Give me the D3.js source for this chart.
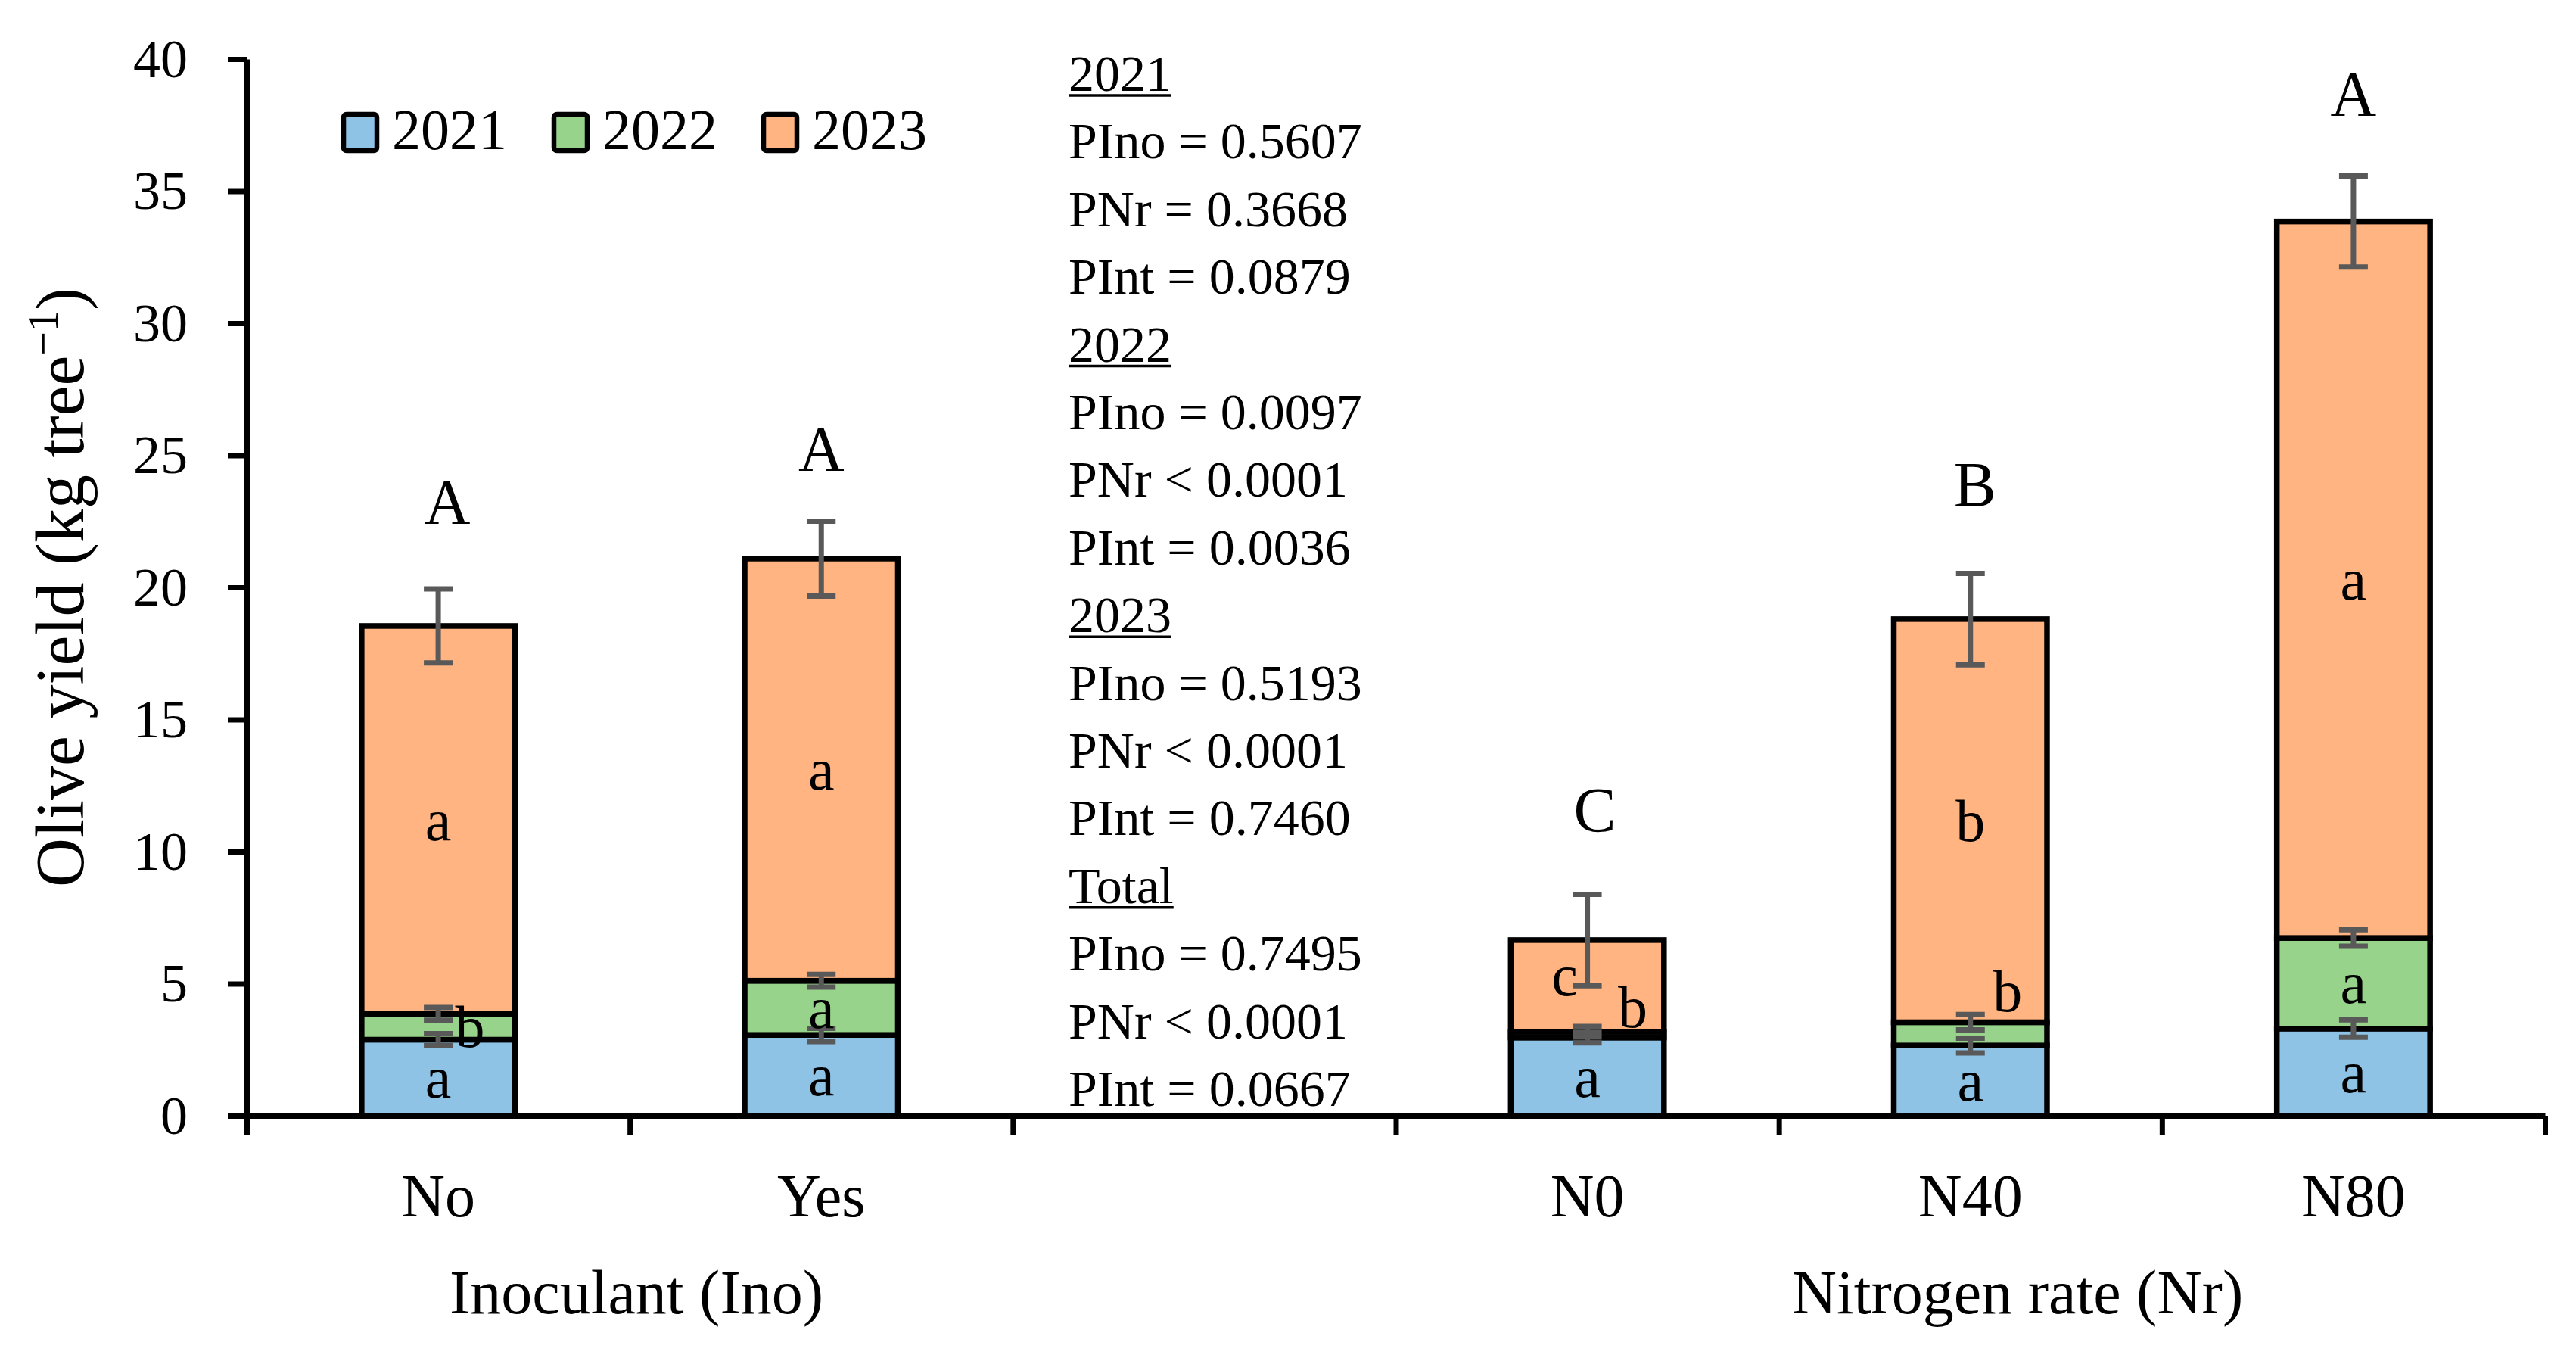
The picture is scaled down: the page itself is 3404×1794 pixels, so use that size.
<!DOCTYPE html>
<html>
<head>
<meta charset="utf-8">
<script src="https://cdn.jsdelivr.net/npm/d3@7"></script>
<style>
  html, body { margin: 0; padding: 0; background: #fff; }
  svg { display: block; }
  text { font-family: "Liberation Serif", "Times New Roman", serif; fill: #000; }
</style>
</head>
<body>
<svg id="chart" width="3404" height="1794"></svg>
<script>
// ---------------- DATA ----------------
const categories = ["No", "Yes", "N0", "N40", "N80"];
const slots = ["No", "Yes", "gap", "N0", "N40", "N80"];
const years = ["2021", "2022", "2023"];
const y2021 = [2.88, 3.06, 2.96, 2.66, 3.30];
const y2022 = [0.98, 2.05, 0.22, 0.88, 3.43];
const y2023 = [14.68, 15.98, 3.47, 15.26, 27.12];
const se2021 = [0.23, 0.25, 0.20, 0.28, 0.33];
const se2022 = [0.24, 0.24, 0.20, 0.29, 0.31];
const se2023 = [1.40, 1.42, 1.73, 1.73, 1.72];
const letters2021 = ["a", "a", "a", "a", "a"];
const letters2022 = ["b", "a", "b", "b", "a"];
const letters2023 = ["a", "a", "c", "b", "a"];
const totalLetters = ["A", "A", "C", "B", "A"];
const yTicks = [0, 5, 10, 15, 20, 25, 30, 35, 40];
const groupTitles = ["Inoculant (Ino)", "Nitrogen rate (Nr)"];
const pLines = [
  { t: "2021", head: true }, { t: "PIno = 0.5607" }, { t: "PNr = 0.3668" }, { t: "PInt = 0.0879" },
  { t: "2022", head: true }, { t: "PIno = 0.0097" }, { t: "PNr < 0.0001" }, { t: "PInt = 0.0036" },
  { t: "2023", head: true }, { t: "PIno = 0.5193" }, { t: "PNr < 0.0001" }, { t: "PInt = 0.7460" },
  { t: "Total", head: true }, { t: "PIno = 0.7495" }, { t: "PNr < 0.0001" }, { t: "PInt = 0.0667" }
];

// ---------------- LAYOUT / STYLE ----------------
const colors = { "2021": "#8EC3E6", "2022": "#98D38B", "2023": "#FFB482" };
const errColor = "#595959";
const x0 = 326, x1 = 3363, yTop = 78, yBot = 1474;
const letterNudge = [
  [[0,0],[0,0],[0,0],[0,0],[0,0]],
  [[42,0],[0,0],[60,-36],[49,-56],[0,0]],
  [[0,0],[0,0],[-30,-14],[0,0],[0,0]]
];
const totalNudge = [[12,-4],[0,16],[10,-1],[6,-7],[0,2]];

const svg = d3.select("#chart");

const x = d3.scaleBand().domain(slots).range([x0, x1]).paddingInner(0.6).paddingOuter(0.3);
const xs = d3.scaleLinear().domain([0, slots.length]).range([x0, x1]);
const y = d3.scaleLinear().domain([0, 40]).range([yBot, yTop]);

const series = [y2021, y2022, y2023];
const ses = [se2021, se2022, se2023];
const lets = [letters2021, letters2022, letters2023];
const rows = categories.map((c, i) => {
  const r = { cat: c };
  years.forEach((yr, k) => r[yr] = series[k][i]);
  return r;
});
const stacked = d3.stack().keys(years)(rows);

// bars
const gBars = svg.append("g");
stacked.forEach((s, k) => {
  gBars.selectAll(null).data(s).enter().append("rect")
    .attr("x", d => x(d.data.cat))
    .attr("width", x.bandwidth())
    .attr("y", d => y(d[1]))
    .attr("height", d => y(d[0]) - y(d[1]))
    .attr("fill", colors[years[k]])
    .attr("stroke", "#000")
    .attr("stroke-width", 7.5);
});

// axes
const yAxis = d3.axisLeft(y).tickValues(yTicks).tickSize(25).tickSizeOuter(0).tickPadding(53);
const gy = svg.append("g").attr("transform", `translate(${x0},0)`).call(yAxis);
gy.selectAll("path, line").attr("stroke", "#000").attr("stroke-width", 7);
gy.selectAll("text").attr("font-size", 72).attr("font-family", "Liberation Serif, serif").attr("fill", "#000");

const xAxis = d3.axisBottom(xs).tickValues(d3.range(slots.length + 1)).tickSize(26).tickSizeOuter(0).tickFormat("");
const gx = svg.append("g").attr("transform", `translate(0,${yBot})`).call(xAxis);
gx.selectAll("path, line").attr("stroke", "#000").attr("stroke-width", 7);

// error bars
const gErr = svg.append("g").attr("stroke", errColor).attr("stroke-width", 7);
stacked.forEach((s, k) => {
  s.forEach((d, i) => {
    const cx = x(d.data.cat) + x.bandwidth() / 2;
    const e = ses[k][i];
    const hi = y(d[1] + e), lo = y(d[1] - e);
    gErr.append("line").attr("x1", cx).attr("x2", cx).attr("y1", hi).attr("y2", lo);
    gErr.append("line").attr("x1", cx - 19).attr("x2", cx + 19).attr("y1", hi).attr("y2", hi);
    gErr.append("line").attr("x1", cx - 19).attr("x2", cx + 19).attr("y1", lo).attr("y2", lo);
  });
});

// within-year letters
const gLet = svg.append("g");
stacked.forEach((s, k) => {
  s.forEach((d, i) => {
    const cx = x(d.data.cat) + x.bandwidth() / 2;
    const cy = (y(d[0]) + y(d[1])) / 2;
    gLet.append("text")
      .attr("x", cx + letterNudge[k][i][0])
      .attr("y", cy + letterNudge[k][i][1])
      .attr("dy", "0.34em")
      .attr("text-anchor", "middle")
      .attr("font-size", 78)
      .text(lets[k][i]);
  });
});

// total letters
const topSeries = stacked[2];
topSeries.forEach((d, i) => {
  const cx = x(d.data.cat) + x.bandwidth() / 2;
  svg.append("text")
    .attr("x", cx + totalNudge[i][0])
    .attr("y", y(d[1] + se2023[i]) - 82 + totalNudge[i][1])
    .attr("text-anchor", "middle")
    .attr("font-size", 84)
    .text(totalLetters[i]);
});

// category labels
svg.append("g").selectAll("text").data(categories).enter().append("text")
  .attr("x", d => x(d) + x.bandwidth() / 2)
  .attr("y", 1607)
  .attr("text-anchor", "middle")
  .attr("font-size", 80)
  .text(d => d);

// group titles
const titleX = [841, 2666];
svg.append("g").selectAll("text").data(groupTitles).enter().append("text")
  .attr("x", (d, i) => titleX[i])
  .attr("y", 1735)
  .attr("text-anchor", "middle")
  .attr("font-size", 82)
  .text(d => d);

// y label
const yl = svg.append("text")
  .attr("transform", `translate(110,${(yTop + yBot) / 2}) rotate(-90)`)
  .attr("text-anchor", "middle")
  .attr("font-size", 90);
yl.append("tspan").text("Olive yield (kg tree");
yl.append("tspan").attr("font-size", 56).attr("dy", -34).text("\u22121");
yl.append("tspan").attr("dy", 34).text(")");

// legend
const legX = [451, 729, 1006];
const gLeg = svg.append("g");
years.forEach((yr, k) => {
  gLeg.append("rect")
    .attr("x", legX[k] + 3).attr("y", 151)
    .attr("width", 44).attr("height", 48)
    .attr("rx", 4)
    .attr("fill", colors[yr]).attr("stroke", "#000").attr("stroke-width", 6.5);
  gLeg.append("text")
    .attr("x", legX[k] + 67).attr("y", 197)
    .attr("font-size", 76)
    .text(yr);
});

// p-value block
const gP = svg.append("g");
pLines.forEach((l, i) => {
  const t = gP.append("text")
    .attr("x", 1412)
    .attr("y", 120 + i * 89.4)
    .attr("font-size", 68)
    .text(l.t);
  if (l.head) {
    const w = t.node().getComputedTextLength();
    gP.append("line")
      .attr("x1", 1412).attr("x2", 1412 + w)
      .attr("y1", 120 + i * 89.4 + 6).attr("y2", 120 + i * 89.4 + 6)
      .attr("stroke", "#000").attr("stroke-width", 3.5);
  }
});
</script>
</body>
</html>
